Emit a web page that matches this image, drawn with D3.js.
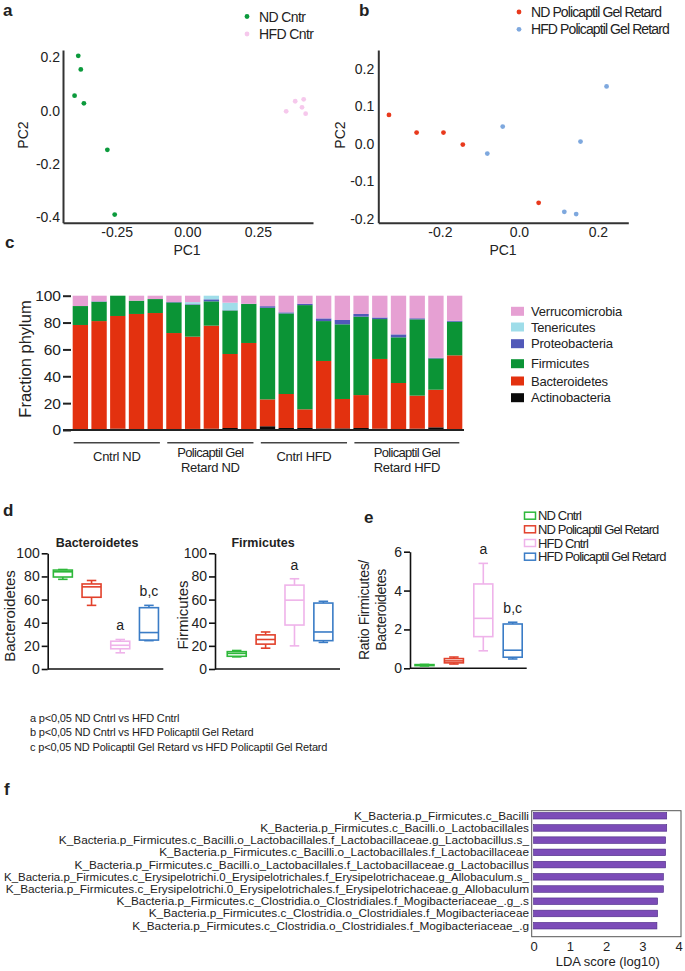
<!DOCTYPE html>
<html><head><meta charset="utf-8">
<script src="https://cdn.jsdelivr.net/npm/d3@7"></script>
<style>
body{margin:0;background:#fff}
svg{display:block}
text{font-family:"Liberation Sans",Arial,Helvetica,sans-serif;fill:#222}
</style>
</head><body>
<svg id="fig" width="685" height="971"></svg>
<script>
// ---------------- DATA ----------------
// Panel a: PCA (PC1, PC2)
const pcaNDCntr  = [[-0.386,0.206],[-0.377,0.155],[-0.399,0.056],[-0.366,0.027],[-0.283,-0.148],[-0.257,-0.392]];
const pcaHFDCntr = [[0.350,-0.003],[0.382,0.035],[0.412,0.042],[0.406,0.012],[0.419,-0.012]];
const pcaAxTicksX = [-0.25,0,0.25];
const pcaAxTicksY = [-0.4,-0.2,0,0.2];
// Panel b
const pcaNDPol  = [[-0.329,0.077],[-0.259,0.030],[-0.191,0.030],[-0.142,-0.002],[0.050,-0.157]];
const pcaHFDPol = [[-0.080,-0.026],[-0.041,0.046],[0.115,-0.181],[0.145,-0.187],[0.156,0.006],[0.222,0.153]];
const pcbTicksX = [-0.2,0,0.2];
const pcbTicksY = [-0.2,-0.1,0,0.1,0.2];
// Panel c: phylum fractions per sample (21 samples)
const phyla = ["Actinobacteria","Bacteroidetes","Firmicutes","Proteobacteria","Tenericutes","Verrucomicrobia"];
const actino = [0.5,0.5,1,0.5,0.5,0.5,0.8,1,1.5,0.5,2.8,1.5,1.5,1.2,1.2,1.5,1,0.5,1,2,0.5];
const bacter = [77.7,80.6,83.9,85.9,86.6,71.7,68.7,76.7,55.1,64.3,20,25.3,13.9,50.2,21.9,24.5,51.9,34.5,24.6,28,55.1];
const firmic = [14.1,14.4,15.1,9.9,10.4,22.8,23.8,18.1,32.4,29,68.2,60,77.6,29.7,55.6,58.4,29.7,34,56.8,23.3,25];
const proteo = [0,0.3,0,0,0,0.3,0.4,1.5,0.2,0.2,1.2,0.8,1,2,3.2,2,1.2,2.2,0.8,0.5,0.7];
const teneri = [0,0,0,0,0,0,1.5,2.7,5.6,0,0,0,0,0,0,0,0,0,0,0,0];
const verruc = [7.7,4.2,0,3.7,2.5,4.7,4.8,0,5.2,6,7.8,12.4,6,16.9,18.1,13.6,16.2,28.8,16.8,46.2,18.7];
const groupsC = [{l1:"Cntrl ND",l2:"",a:0,b:4},{l1:"Policaptil Gel",l2:"Retard ND",a:5,b:9},{l1:"Cntrl HFD",l2:"",a:10,b:14},{l1:"Policaptil Gel",l2:"Retard HFD",a:15,b:20}];
const fracTicks = [0,20,40,60,80,100];
// Panel d/e: box plots [min, q1, median, q3, max]
const boxGroups = ["ND Cntrl","ND Policaptil Gel Retard","HFD Cntrl","HFD Policaptil Gel Retard"];
const bactBox  = [[77.5,79.5,84,85.5,86],[55,62,71,73.5,76.5],[14,17.5,20.5,24,25.5],[24.5,25,31.5,53,55]];
const firmBox  = [[10.5,11,13.5,15,16],[18,21.5,25.5,29.5,32],[20,38,59.5,72.5,78],[23,24.5,32,57,58.5]];
const ratioBox = [[0.12,0.14,0.16,0.19,0.2],[0.22,0.28,0.38,0.5,0.58],[0.9,1.63,2.57,4.34,5.4],[0.48,0.57,0.93,2.28,2.37]];
const bactSig = ["","","a","b,c"], firmSig = ["","","a",""], ratioSig = ["","","a","b,c"];
const pctTicks = [0,20,40,60,80,100], ratioTicks = [0,2,4,6];
const footnotes = ["a p<0,05 ND Cntrl vs HFD Cntrl","b p<0,05 ND Cntrl vs HFD Policaptil Gel Retard","c p<0,05 ND Policaptil Gel Retard vs HFD Policaptil Gel Retard"];
// Panel f: LEfSe
const ldaTaxa = [
 "K_Bacteria.p_Firmicutes.c_Bacilli",
 "K_Bacteria.p_Firmicutes.c_Bacilli.o_Lactobacillales",
 "K_Bacteria.p_Firmicutes.c_Bacilli.o_Lactobacillales.f_Lactobacillaceae.g_Lactobacillus.s_",
 "K_Bacteria.p_Firmicutes.c_Bacilli.o_Lactobacillales.f_Lactobacillaceae",
 "K_Bacteria.p_Firmicutes.c_Bacilli.o_Lactobacillales.f_Lactobacillaceae.g_Lactobacillus",
 "K_Bacteria.p_Firmicutes.c_Erysipelotrichi.0_Erysipelotrichales.f_Erysipelotrichaceae.g_Allobaculum.s_",
 "K_Bacteria.p_Firmicutes.c_Erysipelotrichi.0_Erysipelotrichales.f_Erysipelotrichaceae.g_Allobaculum",
 "K_Bacteria.p_Firmicutes.c_Clostridia.o_Clostridiales.f_Mogibacteriaceae_.g_.s",
 "K_Bacteria.p_Firmicutes.c_Clostridia.o_Clostridiales.f_Mogibacteriaceae",
 "K_Bacteria.p_Firmicutes.c_Clostridia.o_Clostridiales.f_Mogibacteriaceae_.g"];
const ldaScore = [3.67,3.67,3.64,3.64,3.64,3.58,3.58,3.42,3.42,3.40];
const ldaTicks = [0,1,2,3,4];

// ---------------- DRAW ----------------
const svg = d3.select("#fig");
const FONT = '"Liberation Sans", Arial, Helvetica, sans-serif';
function txt(g, x, y, s, o={}) {
  const t = g.append("text").attr("x",x).attr("y",y).text(s)
    .attr("font-size", o.size||13).attr("text-anchor", o.anchor||"start");
  if (o.bold) t.attr("font-weight","bold");
  if (o.ls!=null) t.attr("letter-spacing", o.ls);
  if (o.dy) t.attr("dy", o.dy);
  if (o.rot!=null) t.attr("transform",`rotate(${o.rot},${x},${y})`);
  return t;
}
function styleAx(g, size, sw, col) {
  g.select(".domain").attr("stroke", col||"#333").attr("stroke-width", sw||2);
  g.selectAll(".tick line").attr("stroke", col||"#333").attr("stroke-width", 1.3);
  g.selectAll(".tick text").attr("font-size", size||14).attr("fill","#222").attr("font-family",FONT);
}
const fmt = n => d => d.toFixed(n);

// panel letters
txt(svg,3,16,"a",{size:17,bold:true});
txt(svg,359,16,"b",{size:17,bold:true});
txt(svg,5,248,"c",{size:17,bold:true});
txt(svg,3,516,"d",{size:17,bold:true});
txt(svg,364,523,"e",{size:17,bold:true});
txt(svg,4,795,"f",{size:17,bold:true});

// ---- Panel a ----
{
  const x = d3.scaleLinear().domain([-0.44,0.445]).range([63,313]);
  const y = d3.scaleLinear().domain([-0.4226,0.228]).range([222.7,50]);
  const gy = svg.append("g").attr("transform","translate(63,0)")
    .call(d3.axisLeft(y).tickValues(pcaAxTicksY).tickFormat(fmt(1)).tickSize(0).tickSizeOuter(0).tickPadding(3));
  styleAx(gy,14);
  const gx = svg.append("g").attr("transform","translate(0,222.7)")
    .call(d3.axisBottom(x).tickValues(pcaAxTicksX).tickFormat(fmt(2)).tickSize(0).tickSizeOuter(0).tickPadding(4));
  styleAx(gx,14);
  svg.append("g").selectAll("circle").data(pcaNDCntr).join("circle")
    .attr("cx",d=>x(d[0])).attr("cy",d=>y(d[1])).attr("r",2.4).attr("fill","#0b9a3c");
  svg.append("g").selectAll("circle").data(pcaHFDCntr).join("circle")
    .attr("cx",d=>x(d[0])).attr("cy",d=>y(d[1])).attr("r",2.4).attr("fill","#f6c8ec");
  txt(svg,28,135,"PC2",{size:14,anchor:"middle",rot:-90});
  txt(svg,187,255,"PC1",{size:14,anchor:"middle"});
  svg.append("circle").attr("cx",247).attr("cy",16.5).attr("r",2.4).attr("fill","#0b9a3c");
  svg.append("circle").attr("cx",247).attr("cy",34).attr("r",2.4).attr("fill","#f6c8ec");
  txt(svg,259,21.5,"ND Cntr",{size:14,ls:-0.6});
  txt(svg,259,39,"HFD Cntr",{size:14,ls:-0.6});
}
// ---- Panel b ----
{
  const x = d3.scaleLinear().domain([-0.356,0.277]).range([378.3,628.3]);
  const y = d3.scaleLinear().domain([-0.21,0.25]).range([222.7,50]);
  const gy = svg.append("g").attr("transform","translate(378.3,0)")
    .call(d3.axisLeft(y).tickValues(pcbTicksY).tickFormat(fmt(1)).tickSize(0).tickSizeOuter(0).tickPadding(4));
  styleAx(gy,14);
  const gx = svg.append("g").attr("transform","translate(0,222.7)")
    .call(d3.axisBottom(x).tickValues(pcbTicksX).tickFormat(fmt(1)).tickSize(0).tickSizeOuter(0).tickPadding(4));
  styleAx(gx,14);
  svg.append("g").selectAll("circle").data(pcaNDPol).join("circle")
    .attr("cx",d=>x(d[0])).attr("cy",d=>y(d[1])).attr("r",2.4).attr("fill","#e8391c");
  svg.append("g").selectAll("circle").data(pcaHFDPol).join("circle")
    .attr("cx",d=>x(d[0])).attr("cy",d=>y(d[1])).attr("r",2.4).attr("fill","#7ea8de");
  txt(svg,345,135,"PC2",{size:14,anchor:"middle",rot:-90});
  txt(svg,503,255,"PC1",{size:14,anchor:"middle"});
  svg.append("circle").attr("cx",519).attr("cy",12).attr("r",2.4).attr("fill","#e8391c");
  svg.append("circle").attr("cx",519).attr("cy",29.3).attr("r",2.4).attr("fill","#7ea8de");
  txt(svg,531,17,"ND Policaptil Gel Retard",{size:14,ls:-0.9});
  txt(svg,531,34.3,"HFD Policaptil Gel Retard",{size:14,ls:-0.9});
}
// ---- Panel c ----
{
  const rows = actino.map((v,i)=>({Actinobacteria:v,Bacteroidetes:bacter[i],Firmicutes:firmic[i],Proteobacteria:proteo[i],Tenericutes:teneri[i],Verrucomicrobia:verruc[i],i}));
  const colors = {Actinobacteria:"#0a0a0a",Bacteroidetes:"#e3310f",Firmicutes:"#0b9436",Proteobacteria:"#5159b9",Tenericutes:"#9fdde9",Verrucomicrobia:"#e6a0d3"};
  const x = d3.scaleBand().domain(d3.range(actino.length)).range([71,464]).paddingInner(0.18).paddingOuter(0.09);
  const y = d3.scaleLinear().domain([0,100]).range([430,295.7]);
  const stack = d3.stack().keys(phyla)(rows);
  svg.append("g").selectAll("g").data(stack).join("g").attr("fill",d=>colors[d.key])
    .selectAll("rect").data(d=>d).join("rect")
    .attr("x",d=>x(d.data.i)).attr("width",x.bandwidth())
    .attr("y",d=>y(d[1])).attr("height",d=>Math.max(0,y(d[0])-y(d[1])));
  const gy = svg.append("g").attr("transform","translate(71,0)")
    .call(d3.axisLeft(y).tickValues(fracTicks).tickSize(8).tickPadding(2));
  gy.select(".domain").remove();
  gy.selectAll(".tick line").attr("stroke","#222").attr("stroke-width",2);
  gy.selectAll(".tick text").attr("font-size",15.5).attr("fill","#222");
  svg.append("line").attr("x1",63).attr("x2",x.range()[1]).attr("y1",y(0)).attr("y2",y(0)).attr("stroke","#222").attr("stroke-width",2);
  txt(svg,31,359,"Fraction phylum",{size:16.5,anchor:"middle",rot:-90});
  const gg = svg.append("g");
  groupsC.forEach(g=>{
    const x1 = x(g.a)+1, x2 = x(g.b)+x.bandwidth()-3;
    gg.append("line").attr("x1",x1).attr("x2",x2).attr("y1",442.7).attr("y2",442.7).attr("stroke","#444").attr("stroke-width",1.5);
    const cx = (x1+x2)/2;
    if (g.l2) { txt(gg,cx,457,g.l1,{size:13,anchor:"middle",ls:-0.7}); txt(gg,cx,472,g.l2,{size:13,anchor:"middle",ls:-0.3}); }
    else txt(gg,cx,460.5,g.l1,{size:13,anchor:"middle",ls:-0.3});
  });
  const leg = [...phyla].reverse();
  const legY = [311.3,327,343.7,363.7,381,397.7];
  leg.forEach((k,i)=>{
    svg.append("rect").attr("x",511).attr("y",legY[i]-4.5).attr("width",13).attr("height",9).attr("fill",colors[k]);
    txt(svg,531,legY[i]+4.7,k,{size:13,ls:-0.2});
  });
}
// ---- Box plots ----
const boxCol = ["#2eb83a","#e2412b","#efb3ea","#3a7cc6"];
function boxPlot(data, sig, x, y, bw) {
  const g = svg.append("g").attr("fill","none").attr("stroke-width",1.6);
  data.forEach((d,i)=>{
    const cx = x(boxGroups[i]) + x.bandwidth()/2, c = boxCol[i], cw = bw*0.5;
    g.append("line").attr("x1",cx).attr("x2",cx).attr("y1",y(d[4])).attr("y2",y(d[3])).attr("stroke",c);
    g.append("line").attr("x1",cx).attr("x2",cx).attr("y1",y(d[1])).attr("y2",y(d[0])).attr("stroke",c);
    g.append("line").attr("x1",cx-cw/2).attr("x2",cx+cw/2).attr("y1",y(d[4])).attr("y2",y(d[4])).attr("stroke",c);
    g.append("line").attr("x1",cx-cw/2).attr("x2",cx+cw/2).attr("y1",y(d[0])).attr("y2",y(d[0])).attr("stroke",c);
    g.append("rect").attr("x",cx-bw/2).attr("width",bw).attr("y",y(d[3])).attr("height",Math.max(1,y(d[1])-y(d[3]))).attr("stroke",c).attr("fill","#fff");
    g.append("line").attr("x1",cx-bw/2).attr("x2",cx+bw/2).attr("y1",y(d[2])).attr("y2",y(d[2])).attr("stroke",c);
    if (sig[i]) txt(svg,cx,y(d[4])-9,sig[i],{size:14,anchor:"middle"});
  });
}
function boxAxes(x, y, ticks, axisX, bottomEnd) {
  const gy = svg.append("g").attr("transform",`translate(${axisX},0)`)
    .call(d3.axisLeft(y).tickValues(ticks).tickFormat(d3.format("d")).tickSize(6).tickSizeOuter(0).tickPadding(2));
  gy.select(".domain").attr("stroke","#111").attr("stroke-width",1.6);
  gy.selectAll(".tick line").attr("stroke","#111").attr("stroke-width",1.6);
  gy.selectAll(".tick text").attr("font-size",14).attr("fill","#222");
  svg.append("line").attr("x1",axisX).attr("x2",bottomEnd).attr("y1",y(0)).attr("y2",y(0)).attr("stroke","#111").attr("stroke-width",1.6);
}
{ // Bacteroidetes
  const x = d3.scaleBand().domain(boxGroups).range([48.5,163.3]).paddingInner(0.34).paddingOuter(0.17);
  const y = d3.scaleLinear().domain([0,100]).range([669,553.3]);
  boxAxes(x,y,pctTicks,47.7,163.3);
  boxPlot(bactBox,bactSig,x,y,19);
  txt(svg,97,547,"Bacteroidetes",{size:12.5,bold:true,anchor:"middle"});
  txt(svg,15,616,"Bacteroidetes",{size:15,anchor:"middle",rot:-90});
}
{ // Firmicutes
  const x = d3.scaleBand().domain(boxGroups).range([222.3,337.8]).paddingInner(0.34).paddingOuter(0.17);
  const y = d3.scaleLinear().domain([0,100]).range([669,553.3]);
  boxAxes(x,y,pctTicks,215,340);
  boxPlot(firmBox,firmSig,x,y,19);
  txt(svg,263,547,"Firmicutes",{size:12.5,bold:true,anchor:"middle"});
  txt(svg,188,615,"Firmicutes",{size:15,anchor:"middle",rot:-90});
}
{ // Ratio
  const x = d3.scaleBand().domain(boxGroups).range([409.8,527.4]).paddingInner(0.34).paddingOuter(0.17);
  const y = d3.scaleLinear().domain([0,6]).range([668.3,551.7]);
  boxAxes(x,y,ratioTicks,410,526.7);
  boxPlot(ratioBox,ratioSig,x,y,19);
  txt(svg,369,610,"Ratio Firmicutes/",{size:14,anchor:"middle",rot:-90,ls:-0.3});
  txt(svg,386,610,"Bacteroidetes",{size:14,anchor:"middle",rot:-90,ls:-0.3});
  const ly = [515.7,529.3,543,556.7];
  boxGroups.forEach((k,i)=>{
    svg.append("rect").attr("x",524.5).attr("y",ly[i]-3.5).attr("width",11).attr("height",7).attr("fill","#fff").attr("stroke",boxCol[i]).attr("stroke-width",1.5);
    txt(svg,538,ly[i]+4.6,k,{size:13,ls:-0.85});
  });
}
// footnotes
footnotes.forEach((s,i)=>txt(svg,30,[722,736,751][i],s,{size:11,ls:-0.17}));

// ---- Panel f ----
{
  const x = d3.scaleLinear().domain([0,4]).range([533.5,678.7]);
  const y = d3.scaleBand().domain(ldaTaxa).range([809.6,931.8]).paddingInner(0.46).paddingOuter(0.23);
  svg.append("rect").attr("x",531.7).attr("y",810.7).attr("width",149.3).attr("height",126).attr("fill","none").attr("stroke","#555").attr("stroke-width",1);
  svg.append("g").selectAll("rect").data(ldaTaxa).join("rect")
    .attr("x",x(0)).attr("y",d=>y(d)).attr("height",y.bandwidth())
    .attr("width",(d,i)=>x(ldaScore[i])-x(0)).attr("fill","#7c4cb8").attr("stroke","#4b2b85").attr("stroke-width",0.6);
  const gy = svg.append("g").attr("transform","translate(529,0)");
  ldaTaxa.forEach(t=>{
    const el = txt(gy,0,y(t)+y.bandwidth()/2+4,t,{size:11.8,anchor:"end"});
    const L = el.node().getComputedTextLength();
    if (L > 525) el.attr("textLength",525).attr("lengthAdjust","spacingAndGlyphs");
  });
  const gx = svg.append("g").attr("transform","translate(0,936.7)")
    .call(d3.axisBottom(x).tickValues(ldaTicks).tickFormat(d3.format("d")).tickSize(0).tickPadding(5));
  gx.select(".domain").remove();
  gx.selectAll(".tick text").attr("font-size",13).attr("fill","#222");
  txt(svg,607.7,966,"LDA score (log10)",{size:13,anchor:"middle"});
}
</script>
</body></html>
